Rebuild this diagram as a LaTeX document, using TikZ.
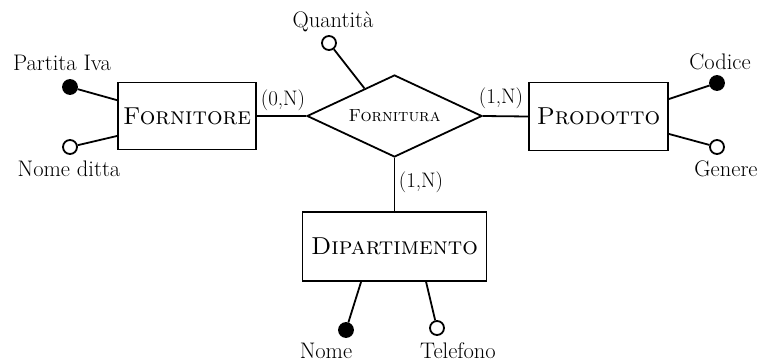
\documentclass[tikz,border=0pt]{standalone}
\usetikzlibrary{shapes.geometric,calc}
\begin{document}
\begin{tikzpicture}[x=1pt,y=-1pt,
  line width=1.8pt,
  entity/.style={draw,rectangle,inner sep=0pt,font=\fontsize{24.5}{28}\selectfont\scshape},
  relation/.style={draw,diamond,aspect=2.13,inner sep=0pt,minimum width=175pt,minimum height=82pt,
    font=\fontsize{17.5}{20}\selectfont\scshape},
  keyattr/.style={draw,circle,fill=black,inner sep=0pt,minimum size=14pt},
  attr/.style={draw,circle,fill=white,inner sep=0pt,minimum size=14pt},
  lbl/.style={font=\fontsize{22.5}{26}\selectfont,anchor=base,inner sep=0pt},
  card/.style={font=\fontsize{21}{24}\selectfont,inner sep=0pt}]
\useasboundingbox (0,0) rectangle (763,362);

% entities and relationship
\node[entity,minimum width=138pt,minimum height=67pt] (forn) at (187,116) {Fornitore};
\node[entity,minimum width=139pt,minimum height=68pt] (prod) at (598.5,116.5) {Prodotto};
\node[entity,minimum width=184pt,minimum height=69pt] (dip) at (394.5,246.5) {Dipartimento};
\node[relation] (rel) at (394.5,116) {Fornitura};

% relationship lines
\draw (forn.east) -- (rel.west);
\draw (rel.east) -- (prod.west);
\draw (rel.south) -- (dip.north);

% cardinalities
\node[card] (c1) at (283,100) {(0,N)};
\node[card] (c2) at (501,98) {(1,N)};
\node[card] (c3) at (421,182) {(1,N)};

% attributes of Fornitore
\node[keyattr] (piva) at (70,87) {};
\node[attr] (ndit) at (70,147) {};
\draw ($(forn.north west)!0.27!(forn.south west)$) -- (piva);
\draw ($(forn.north west)!0.79!(forn.south west)$) -- (ndit);
\node[lbl] (tpiva) at (62,70) {Partita Iva};
\node[lbl] (tndit) at (69,176) {Nome ditta};

% attribute of Fornitura
\node[attr] (qta) at (329,43) {};
\draw ($(rel.west)!0.66!(rel.north)$) -- (qta);
\node[lbl] (tqta) at (333,27) {Quantità};

% attributes of Prodotto
\node[keyattr] (cod) at (717,83) {};
\node[attr] (gen) at (717,147) {};
\draw ($(prod.north east)!0.25!(prod.south east)$) -- (cod);
\draw ($(prod.north east)!0.75!(prod.south east)$) -- (gen);
\node[lbl] (tcod) at (720,69) {Codice};
\node[lbl] (tgen) at (726,176) {Genere};

% attributes of Dipartimento
\node[keyattr] (nome) at (346,330) {};
\node[attr] (tel) at (437,328) {};
\draw ($(dip.south west)!0.32!(dip.south east)$) -- (nome);
\draw ($(dip.south west)!0.67!(dip.south east)$) -- (tel);
\node[lbl] (tnome) at (326,358) {Nome};
\node[lbl] (ttel) at (458,358) {Telefono};
\end{tikzpicture}
\end{document}
